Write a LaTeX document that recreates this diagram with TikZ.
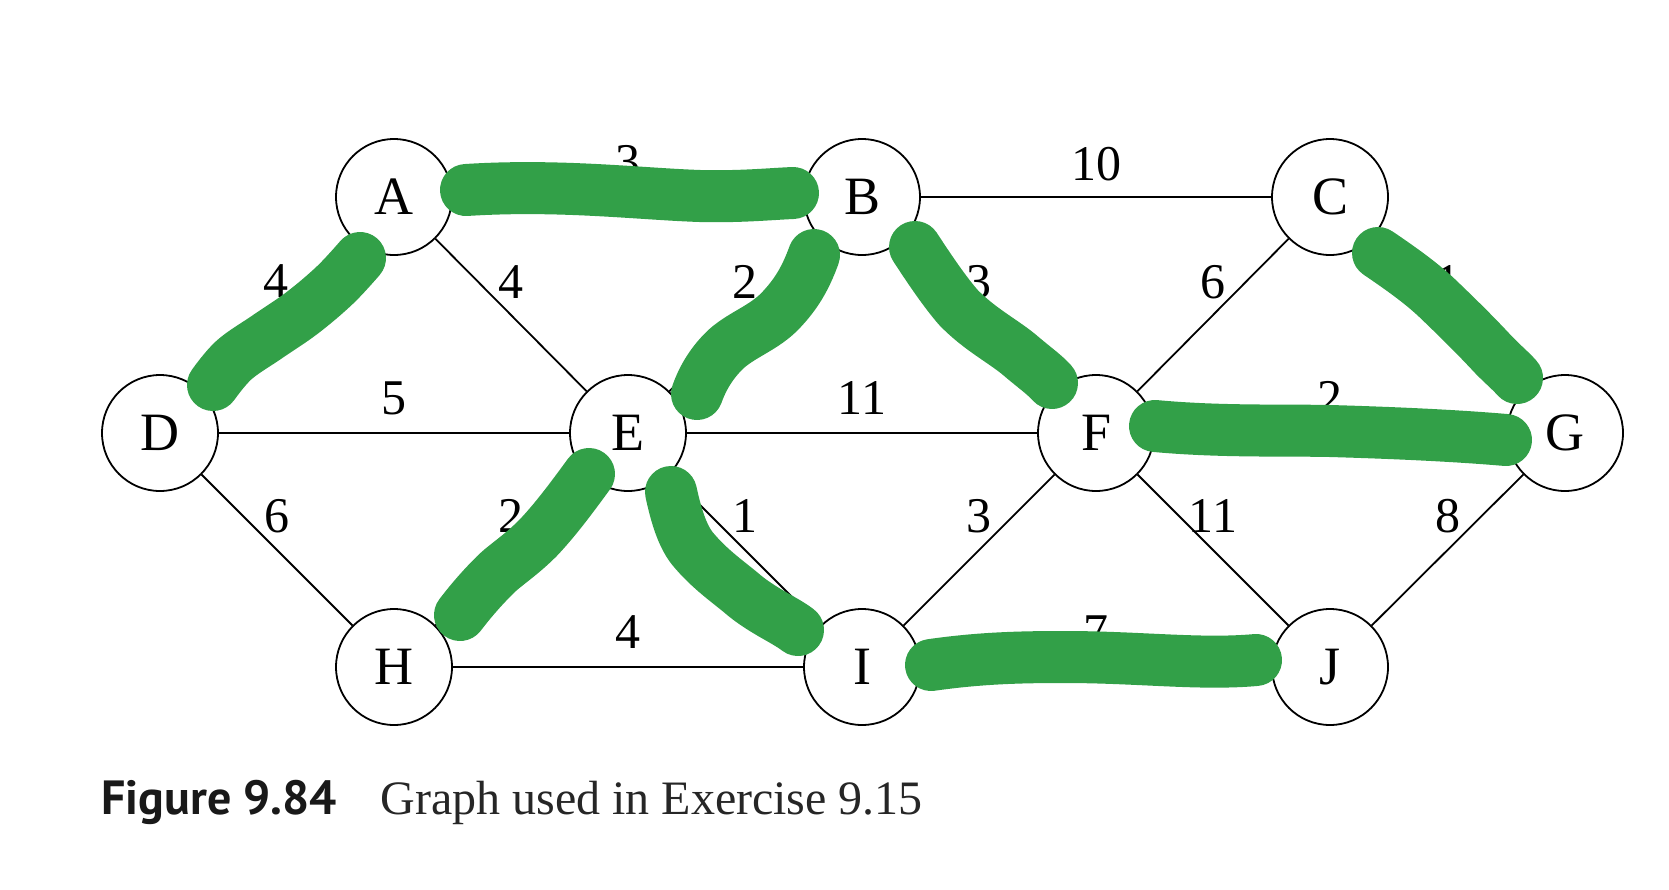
\documentclass[tikz,border=0pt]{standalone}
\usepackage{fontspec}
\setmainfont{Liberation Serif}
\newfontfamily\capsans{PT Sans}
\definecolor{mstgreen}{RGB}{50,160,72}
\begin{document}
\begin{tikzpicture}[x=0.5pt,y=-0.5pt,
  vtx/.style={circle,draw,line width=0.9pt,minimum size=58pt,inner sep=0pt,fill=white,font=\fontsize{27}{27}\selectfont},
  edge/.style={line width=0.9pt},
  wlab/.style={font=\fontsize{25}{25}\selectfont,inner sep=0pt},
  hl/.style={line width=26pt,line cap=round,line join=round,color=mstgreen}]
\useasboundingbox (0,0) rectangle (1669,889);
\fill[white] (0,0) rectangle (1669,889);
% vertices
\node[vtx] (A) at (394,197) {A};
\node[vtx] (B) at (862,197) {B};
\node[vtx] (C) at (1330,197) {C};
\node[vtx] (D) at (160,433) {D};
\node[vtx] (E) at (628,433) {E};
\node[vtx] (F) at (1096,433) {F};
\node[vtx] (G) at (1565,433) {G};
\node[vtx] (H) at (394,667) {H};
\node[vtx] (I) at (862,667) {I};
\node[vtx] (J) at (1330,667) {J};
% edges
\draw[edge] (A) -- (B);
\draw[edge] (B) -- (C);
\draw[edge] (A) -- (D);
\draw[edge] (A) -- (E);
\draw[edge] (B) -- (E);
\draw[edge] (B) -- (F);
\draw[edge] (C) -- (F);
\draw[edge] (C) -- (G);
\draw[edge] (D) -- (E);
\draw[edge] (E) -- (F);
\draw[edge] (F) -- (G);
\draw[edge] (D) -- (H);
\draw[edge] (E) -- (H);
\draw[edge] (E) -- (I);
\draw[edge] (F) -- (I);
\draw[edge] (F) -- (J);
\draw[edge] (G) -- (J);
\draw[edge] (H) -- (I);
\draw[edge] (I) -- (J);
% weights
\node[wlab] (wAB) at (628,162) {3};
\node[wlab] (wBC) at (1096,164) {10};
\node[wlab] (wAD) at (276,281) {4};
\node[wlab] (wAE) at (511,282) {4};
\node[wlab] (wBE) at (745,282) {2};
\node[wlab] (wBF) at (979,282) {3};
\node[wlab] (wCF) at (1213,282) {6};
\node[wlab] (wCG) at (1448,282) {1};
\node[wlab] (wDE) at (394,398) {5};
\node[wlab] (wEF) at (862,398) {11};
\node[wlab] (wFG) at (1330,398) {2};
\node[wlab] (wDH) at (277,516) {6};
\node[wlab] (wEH) at (511,516) {2};
\node[wlab] (wEI) at (745,516) {1};
\node[wlab] (wFI) at (979,516) {3};
\node[wlab] (wFJ) at (1213,516) {11};
\node[wlab] (wGJ) at (1448,516) {8};
\node[wlab] (wHI) at (628,632) {4};
\node[wlab] (wIJ) at (1096,632) {7};
% highlighted tree edges
\draw[hl] (466,190) .. controls (560,184) and (640,194) .. (700,196) .. controls (740,197) and (770,194) .. (793,193);
\draw[hl] plot[smooth,tension=0.6] coordinates {(360,258) (335,285) (302,313) (267,337) (234,360) (213,385)};
\draw[hl] (814,255) .. controls (805,280) and (795,295) .. (782,309) .. controls (765,328) and (740,335) .. (724,351) .. controls (710,365) and (702,380) .. (697,394);
\draw[hl] (915,247) .. controls (930,270) and (945,292) .. (958,307) .. controls (980,330) and (1005,342) .. (1022,357) .. controls (1035,368) and (1045,375) .. (1052,383);
\draw[hl] (1378,253) .. controls (1400,268) and (1420,282) .. (1437,298) .. controls (1460,320) and (1475,335) .. (1490,351) .. controls (1500,362) and (1510,370) .. (1517,378);
\draw[hl] (1155,426) .. controls (1220,432) and (1280,430) .. (1330,431) .. controls (1400,433) and (1460,436) .. (1506,440);
\draw[hl] (589,474) .. controls (570,500) and (555,520) .. (538,538) .. controls (520,556) and (505,565) .. (495,575) .. controls (480,590) and (470,602) .. (460,615);
\draw[hl] (671,492) .. controls (676,515) and (682,535) .. (692,548) .. controls (710,570) and (730,583) .. (745,596) .. controls (765,612) and (785,620) .. (798,630);
\draw[hl] (931,665) .. controls (980,658) and (1020,657) .. (1064,657) .. controls (1140,657) and (1200,665) .. (1256,660);
% caption
\node[anchor=base west,inner sep=0pt,font=\capsans\bfseries\fontsize{24}{24}\selectfont,text=black!90] (figno) at (101,814) {Figure 9.84};
\node[anchor=base west,inner sep=0pt,font=\fontsize{24}{24}\selectfont,text=black!85] (captxt) at (380,814) {Graph used in Exercise 9.15};
\end{tikzpicture}
\end{document}
